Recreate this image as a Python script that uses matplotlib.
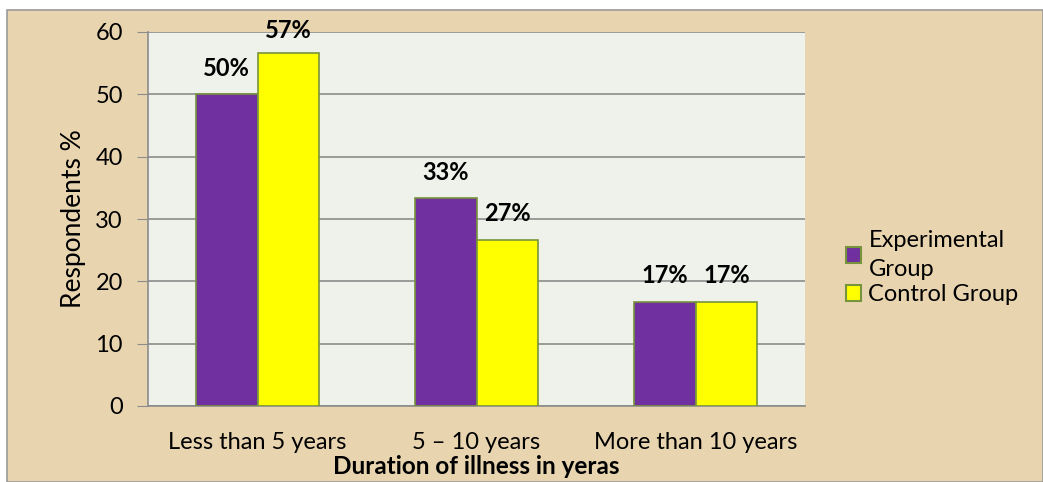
import matplotlib.pyplot as plt
import numpy as np
from matplotlib.patches import Rectangle

# duration groups and share of respondents (%)
categorias = ["Less than 5 years", "5 – 10 years", "More than 10 years"]
experimental = [50.0, 33.33, 16.67]
control = [56.67, 26.67, 16.67]
series = ["Experimental\nGroup", "Control Group"]

plt.rcParams['font.family'] = ['Lato', 'DejaVu Sans']
fs = 17

fig = plt.figure(figsize=(10.43, 4.82), dpi=100)
fig.patch.set_facecolor('white')

# fondo tipo pergamino con borde gris
fig.patches.append(Rectangle((7 / 1043, 0), 1 - 7 / 1043, 1 - 10 / 482,
                             transform=fig.transFigure, facecolor='#e8d5b0',
                             edgecolor='#9a9a9a', linewidth=1.2, zorder=-1))

ax = fig.add_axes([148 / 1043, 1 - 406 / 482, 657 / 1043, 374 / 482])
ax.set_facecolor('#eff2ea')

x = np.arange(len(categorias))
ancho = 0.283
b1 = ax.bar(x - ancho / 2, experimental, ancho, color='#7030a0',
            edgecolor='#77933c', linewidth=1.2, label=series[0], zorder=3)
b2 = ax.bar(x + ancho / 2, control, ancho, color='#ffff00',
            edgecolor='#77933c', linewidth=1.2, label=series[1], zorder=3)

# etiquetas de porcentaje
for barras, vals in ((b1, experimental), (b2, control)):
    for rect, v in zip(barras, vals):
        ax.text(rect.get_x() + rect.get_width() / 2, min(v + 4.2, 60.2),
                f"{v:.0f}%", ha='center', va='center', fontsize=fs,
                fontweight='bold', zorder=4)

ax.set_ylim(0, 60)
ax.set_xlim(-0.5, 2.5)
ax.set_yticks(range(0, 61, 10))
ax.set_xticks(x)
ax.set_xticklabels(categorias, fontsize=fs)
ax.tick_params(axis='y', labelsize=fs, length=8, color='#8c8c8c', pad=10)
ax.tick_params(axis='x', length=0, pad=19)
ax.yaxis.grid(True, color='#8c8c8c', linewidth=1.2, zorder=1)
ax.set_axisbelow(True)
for lado in ['top', 'right']:
    ax.spines[lado].set_visible(False)
for lado in ['left', 'bottom']:
    ax.spines[lado].set_color('#8c8c8c')
    ax.spines[lado].set_linewidth(1.2)

ax.set_ylabel("Respondents %", fontsize=fs + 2, labelpad=7)
ax.set_xlabel("Duration of illness in yeras", fontsize=fs + 0.5,
              fontweight='bold', labelpad=1)

leg = ax.legend(loc='center left', bbox_to_anchor=(1.03, 0.37), frameon=False,
                fontsize=fs, handlelength=0.65, handleheight=0.65,
                handletextpad=0.3, labelspacing=0.2)
for t in leg.get_texts():
    t.set_linespacing(1.45)
for h in leg.legend_handles:
    h.set_edgecolor('#77933c')
    h.set_linewidth(1.5)

fig.savefig("out.png", dpi=100)
